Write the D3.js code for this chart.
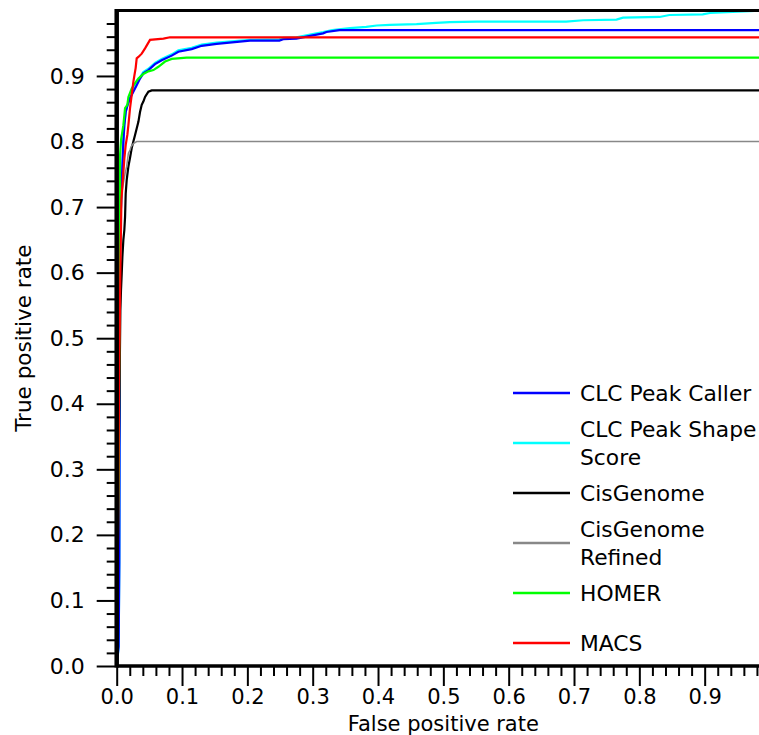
<!DOCTYPE html>
<html>
<head>
<meta charset="utf-8">
<script src="https://cdn.jsdelivr.net/npm/d3@7"></script>
<style>
  body { margin: 0; background: #fff; }
  text { font-family: "DejaVu Sans", sans-serif; fill: #000; }
</style>
</head>
<body>
<div id="chart"></div>
<script>
// ROC points: [false positive rate, true positive rate]
var clcPeakCaller = [[0,0],[0.003,0.03],[0.004,0.157],[0.005,0.66],[0.0066,0.701],[0.0077,0.737],[0.0102,0.80],
  [0.0117,0.825],[0.0138,0.845],[0.0168,0.856],[0.0204,0.866],[0.0255,0.876],[0.0306,0.886],[0.0357,0.896],
  [0.0408,0.904],[0.0485,0.909],[0.0587,0.918],[0.0689,0.924],[0.0842,0.931],[0.0944,0.937],[0.1148,0.941],
  [0.1301,0.946],[0.153,0.949],[0.204,0.954],[0.249,0.954],[0.255,0.956],[0.275,0.957],[0.300,0.962],
  [0.316,0.965],[0.321,0.967],[0.341,0.970],[1,0.970]];
var clcPeakShape = [[0,0],[0.003,0.03],[0.004,0.157],[0.005,0.66],[0.0066,0.703],[0.0077,0.739],[0.0102,0.80],
  [0.0117,0.826],[0.0138,0.846],[0.0168,0.857],[0.0204,0.867],[0.0255,0.878],[0.0306,0.888],[0.0357,0.898],
  [0.0408,0.906],[0.0485,0.911],[0.0587,0.920],[0.0689,0.926],[0.0842,0.933],[0.0944,0.939],[0.1148,0.943],
  [0.1301,0.948],[0.153,0.951],[0.204,0.955],[0.249,0.956],[0.255,0.958],[0.275,0.959],[0.300,0.964],
  [0.316,0.967],[0.330,0.970],[0.357,0.973],[0.382,0.975],[0.398,0.977],[0.418,0.978],[0.459,0.979],
  [0.489,0.981],[0.510,0.982],[0.551,0.983],[0.688,0.983],[0.714,0.985],[0.765,0.986],[0.775,0.989],
  [0.831,0.990],[0.846,0.993],[0.897,0.994],[0.908,0.996],[0.969,0.999],[1,1]];
var cisGenome = [[0,0],[0.003,0.3],[0.0056,0.543],[0.0066,0.574],[0.0077,0.599],[0.0087,0.624],[0.0102,0.650],
  [0.0117,0.665],[0.0128,0.685],[0.0138,0.721],[0.0153,0.741],[0.0179,0.762],[0.0204,0.775],[0.023,0.790],
  [0.0255,0.800],[0.0281,0.810],[0.0306,0.820],[0.0332,0.830],[0.0357,0.845],[0.0383,0.856],[0.0408,0.861],
  [0.0434,0.868],[0.0485,0.876],[0.0536,0.878],[1,0.878]];
var cisGenomeRefined = [[0,0],[0.003,0.4],[0.006,0.665],[0.0077,0.721],[0.0102,0.736],[0.0128,0.751],
  [0.0153,0.762],[0.0168,0.774],[0.0179,0.782],[0.0204,0.787],[0.0219,0.792],[0.0255,0.797],[0.0306,0.800],
  [1,0.800]];
var homer = [[0,0],[0.003,0.3],[0.005,0.716],[0.005,0.777],[0.0066,0.802],[0.0102,0.825],[0.0117,0.840],
  [0.0128,0.851],[0.0163,0.856],[0.0179,0.868],[0.023,0.881],[0.0281,0.889],[0.0332,0.896],[0.0408,0.903],
  [0.0485,0.907],[0.0562,0.909],[0.0638,0.914],[0.074,0.922],[0.0791,0.924],[0.0842,0.926],[0.107,0.928],
  [1,0.928]];
var macs = [[0,0],[0.002,0.2],[0.004,0.48],[0.0046,0.512],[0.0054,0.589],[0.0072,0.711],[0.0117,0.774],
  [0.0138,0.795],[0.0163,0.810],[0.0179,0.825],[0.0204,0.851],[0.023,0.871],[0.0255,0.891],[0.0271,0.901],
  [0.029,0.912],[0.0306,0.927],[0.0332,0.929],[0.0383,0.934],[0.0434,0.942],[0.051,0.955],[0.0715,0.957],
  [0.0816,0.959],[1,0.959]];

var seriesNames = ["CLC Peak Caller", "CLC Peak Shape Score", "CisGenome", "CisGenome Refined", "HOMER", "MACS"];
var legendLines = [["CLC Peak Caller"], ["CLC Peak Shape", "Score"], ["CisGenome"], ["CisGenome", "Refined"], ["HOMER"], ["MACS"]];
var seriesData = [clcPeakCaller, clcPeakShape, cisGenome, cisGenomeRefined, homer, macs];
var seriesColors = ["#0000ff", "#00ffff", "#000000", "#888888", "#00ff00", "#ff0000"];
var seriesWidths = [2.2, 2.2, 2.2, 1.5, 2.2, 2.2];
var majorTicks = [0, 0.1, 0.2, 0.3, 0.4, 0.5, 0.6, 0.7, 0.8, 0.9];

var width = 759, height = 735;
var plotLeft = 116.7, plotBottom = 666, plotTop = 10.4;

var svg = d3.select("#chart").append("svg")
  .attr("width", width)
  .attr("height", height);

// scales, x runs past the right edge of the picture
var x = d3.scaleLinear().domain([0, 1]).range([plotLeft, 770]);
var y = d3.scaleLinear().domain([0, 1]).range([plotBottom, plotTop]);

var minorTicks = d3.range(0, 50).map(function(i) { return i / 50; })
  .filter(function(v) { return Math.round(v * 50) % 5 != 0; });

var valueline = d3.line()
  .x(function(d) { return x(d[0]); })
  .y(function(d) { return y(d[1]); });

// draw cyan first so blue sits on top of it
var drawOrder = [1, 0, 2, 3, 4, 5];
drawOrder.forEach(function(i) {
  svg.append("path")
    .datum(seriesData[i])
    .attr("fill", "none")
    .attr("stroke", seriesColors[i])
    .attr("stroke-width", seriesWidths[i])
    .attr("d", valueline);
});

// top frame
svg.append("line")
  .attr("x1", plotLeft).attr("x2", width)
  .attr("y1", y(1)).attr("y2", y(1))
  .attr("stroke", "#000").attr("stroke-width", 3);

// minor ticks
svg.append("g")
  .attr("transform", "translate(" + plotLeft + ",0)")
  .call(d3.axisLeft(y).tickValues(minorTicks).tickSize(10).tickSizeOuter(0).tickFormat(""))
  .call(function(g) { g.select(".domain").remove(); })
  .selectAll("line").attr("stroke-width", 2);
svg.append("g")
  .attr("transform", "translate(0," + plotBottom + ")")
  .call(d3.axisBottom(x).tickValues(minorTicks).tickSize(10).tickSizeOuter(0).tickFormat(""))
  .call(function(g) { g.select(".domain").remove(); })
  .selectAll("line").attr("stroke-width", 2);

// major ticks and labels
var yAxis = svg.append("g")
  .attr("transform", "translate(" + plotLeft + ",0)")
  .call(d3.axisLeft(y).tickValues(majorTicks).tickSize(20).tickPadding(12).tickFormat(d3.format(".1f")));
yAxis.select(".domain").remove();
yAxis.selectAll("line").attr("stroke-width", 2);
yAxis.selectAll("text").style("font-size", "22px").style("font-family", "DejaVu Sans");

var xAxis = svg.append("g")
  .attr("transform", "translate(0," + plotBottom + ")")
  .call(d3.axisBottom(x).tickValues(majorTicks).tickSize(20).tickPadding(3).tickFormat(d3.format(".1f")));
xAxis.select(".domain").remove();
xAxis.selectAll("line").attr("stroke-width", 2);
xAxis.selectAll("text").style("font-size", "21px").style("font-family", "DejaVu Sans");

// axis lines
svg.append("line")
  .attr("x1", plotLeft).attr("x2", plotLeft)
  .attr("y1", y(1) - 1.5).attr("y2", plotBottom + 1.5)
  .attr("stroke", "#000").attr("stroke-width", 4.5);
svg.append("line")
  .attr("x1", plotLeft).attr("x2", width)
  .attr("y1", plotBottom).attr("y2", plotBottom)
  .attr("stroke", "#000").attr("stroke-width", 3.3);

// axis titles
svg.append("text")
  .attr("x", x(0.5))
  .attr("y", 731)
  .style("text-anchor", "middle")
  .style("font-size", "21px")
  .text("False positive rate");
svg.append("text")
  .attr("transform", "translate(31," + ((plotBottom + plotTop) / 2) + ") rotate(-90)")
  .style("text-anchor", "middle")
  .style("font-size", "21.5px")
  .text("True positive rate");

// legend
var legend = svg.append("g");
seriesNames.forEach(function(name, i) {
  var ly = 393 + i * 50;
  legend.append("line")
    .attr("x1", 513).attr("x2", 570)
    .attr("y1", ly).attr("y2", ly)
    .attr("stroke", seriesColors[i])
    .attr("stroke-width", 2.5);
  var lines = legendLines[i];
  lines.forEach(function(t, j) {
    legend.append("text")
      .attr("x", 580)
      .attr("y", ly + 8 + (j - (lines.length - 1) / 2) * 28)
      .style("font-size", "21.8px")
      .text(t);
  });
});
</script>
</body>
</html>
